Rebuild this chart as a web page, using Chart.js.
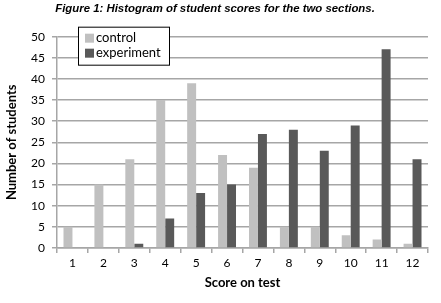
<!DOCTYPE html>
<html>
<head>
<meta charset="utf-8">
<script src="https://cdn.jsdelivr.net/npm/chart.js@4/dist/chart.umd.min.js"></script>
<style>
  body { margin: 0; background: #fff; }
  #wrap { width: 441px; height: 303px; }
</style>
</head>
<body>
<div id="wrap"><canvas id="histchart"></canvas></div>
<script>
// scores on the test (x categories)
const scores = ['1', '2', '3', '4', '5', '6', '7', '8', '9', '10', '11', '12'];
// number of students per score
const controlCounts = [5, 15, 21, 35, 39, 22, 19, 5, 5, 3, 2, 1];
const experimentCounts = [0, 0, 1, 7, 13, 15, 27, 28, 23, 29, 47, 21];

const gridGrey = '#a6a6a6';
const labelFont = { family: 'Lato', size: 12 };

// legend drawn inside the plot with a black frame
const boxLegend = {
    id: 'boxLegend',
    afterDraw(chart) {
        const c = chart.ctx;
        const area = chart.chartArea;
        const x = area.left + 21;
        const y = area.top - 10;
        const w = 91, h = 38;
        c.save();
        c.fillStyle = '#fff';
        c.fillRect(x, y, w, h);
        c.strokeStyle = '#000';
        c.lineWidth = 1;
        c.strokeRect(x + 0.5, y + 0.5, w, h);
        c.font = '13px Lato';
        c.textBaseline = 'middle';
        chart.data.datasets.forEach(function (ds, i) {
            const rowY = y + 11 + i * 15;
            c.fillStyle = ds.backgroundColor;
            c.fillRect(x + 7, rowY - 4, 9, 9);
            c.fillStyle = '#000';
            c.fillText(ds.label, x + 18, rowY);
        });
        c.restore();
    }
};

const ctx = document.getElementById('histchart').getContext('2d');
const histchart = new Chart(ctx, {
    type: 'bar',
    data: {
        labels: scores,
        datasets: [{
            label: 'control',
            data: controlCounts,
            backgroundColor: '#c0c0c0',
            categoryPercentage: 0.58,
            barPercentage: 1
        }, {
            label: 'experiment',
            data: experimentCounts,
            backgroundColor: '#595959',
            categoryPercentage: 0.58,
            barPercentage: 1
        }]
    },
    options: {
        responsive: true,
        maintainAspectRatio: false,
        animation: false,
        layout: {
            padding: { left: 2, right: 13, top: 0, bottom: 0 }
        },
        plugins: {
            legend: { display: false },
            tooltip: { enabled: false },
            title: {
                display: true,
                text: 'Figure 1: Histogram of student scores for the two sections.',
                color: '#000',
                font: { family: 'Liberation Sans', size: 11.4, weight: 'bold', style: 'italic' },
                padding: { top: 2, bottom: 21 }
            }
        },
        scales: {
            x: {
                grid: {
                    drawOnChartArea: false,
                    offset: true,
                    tickLength: 5,
                    color: gridGrey,
                    lineWidth: 1.5
                },
                border: { color: gridGrey, width: 1.5 },
                ticks: { color: '#000', font: labelFont, padding: 3 },
                title: {
                    display: true,
                    text: 'Score on test',
                    color: '#000',
                    font: { family: 'Lato', size: 13, weight: 'bold' },
                    padding: { top: 0, bottom: 12 }
                },
                afterFit: function (scale) { scale.height = 55; }
            },
            y: {
                min: 0,
                max: 50,
                ticks: { stepSize: 5, color: '#000', font: labelFont, padding: 7 },
                grid: { color: gridGrey, lineWidth: 1.5, tickLength: 5 },
                border: { color: gridGrey, width: 1.5 },
                title: {
                    display: true,
                    text: 'Number of students',
                    color: '#000',
                    font: { family: 'Lato', size: 13, weight: 'bold' },
                    padding: { top: 2, bottom: 0 }
                },
                afterFit: function (scale) { scale.width = 55; }
            }
        }
    },
    plugins: [boxLegend]
});
</script>
</body>
</html>
